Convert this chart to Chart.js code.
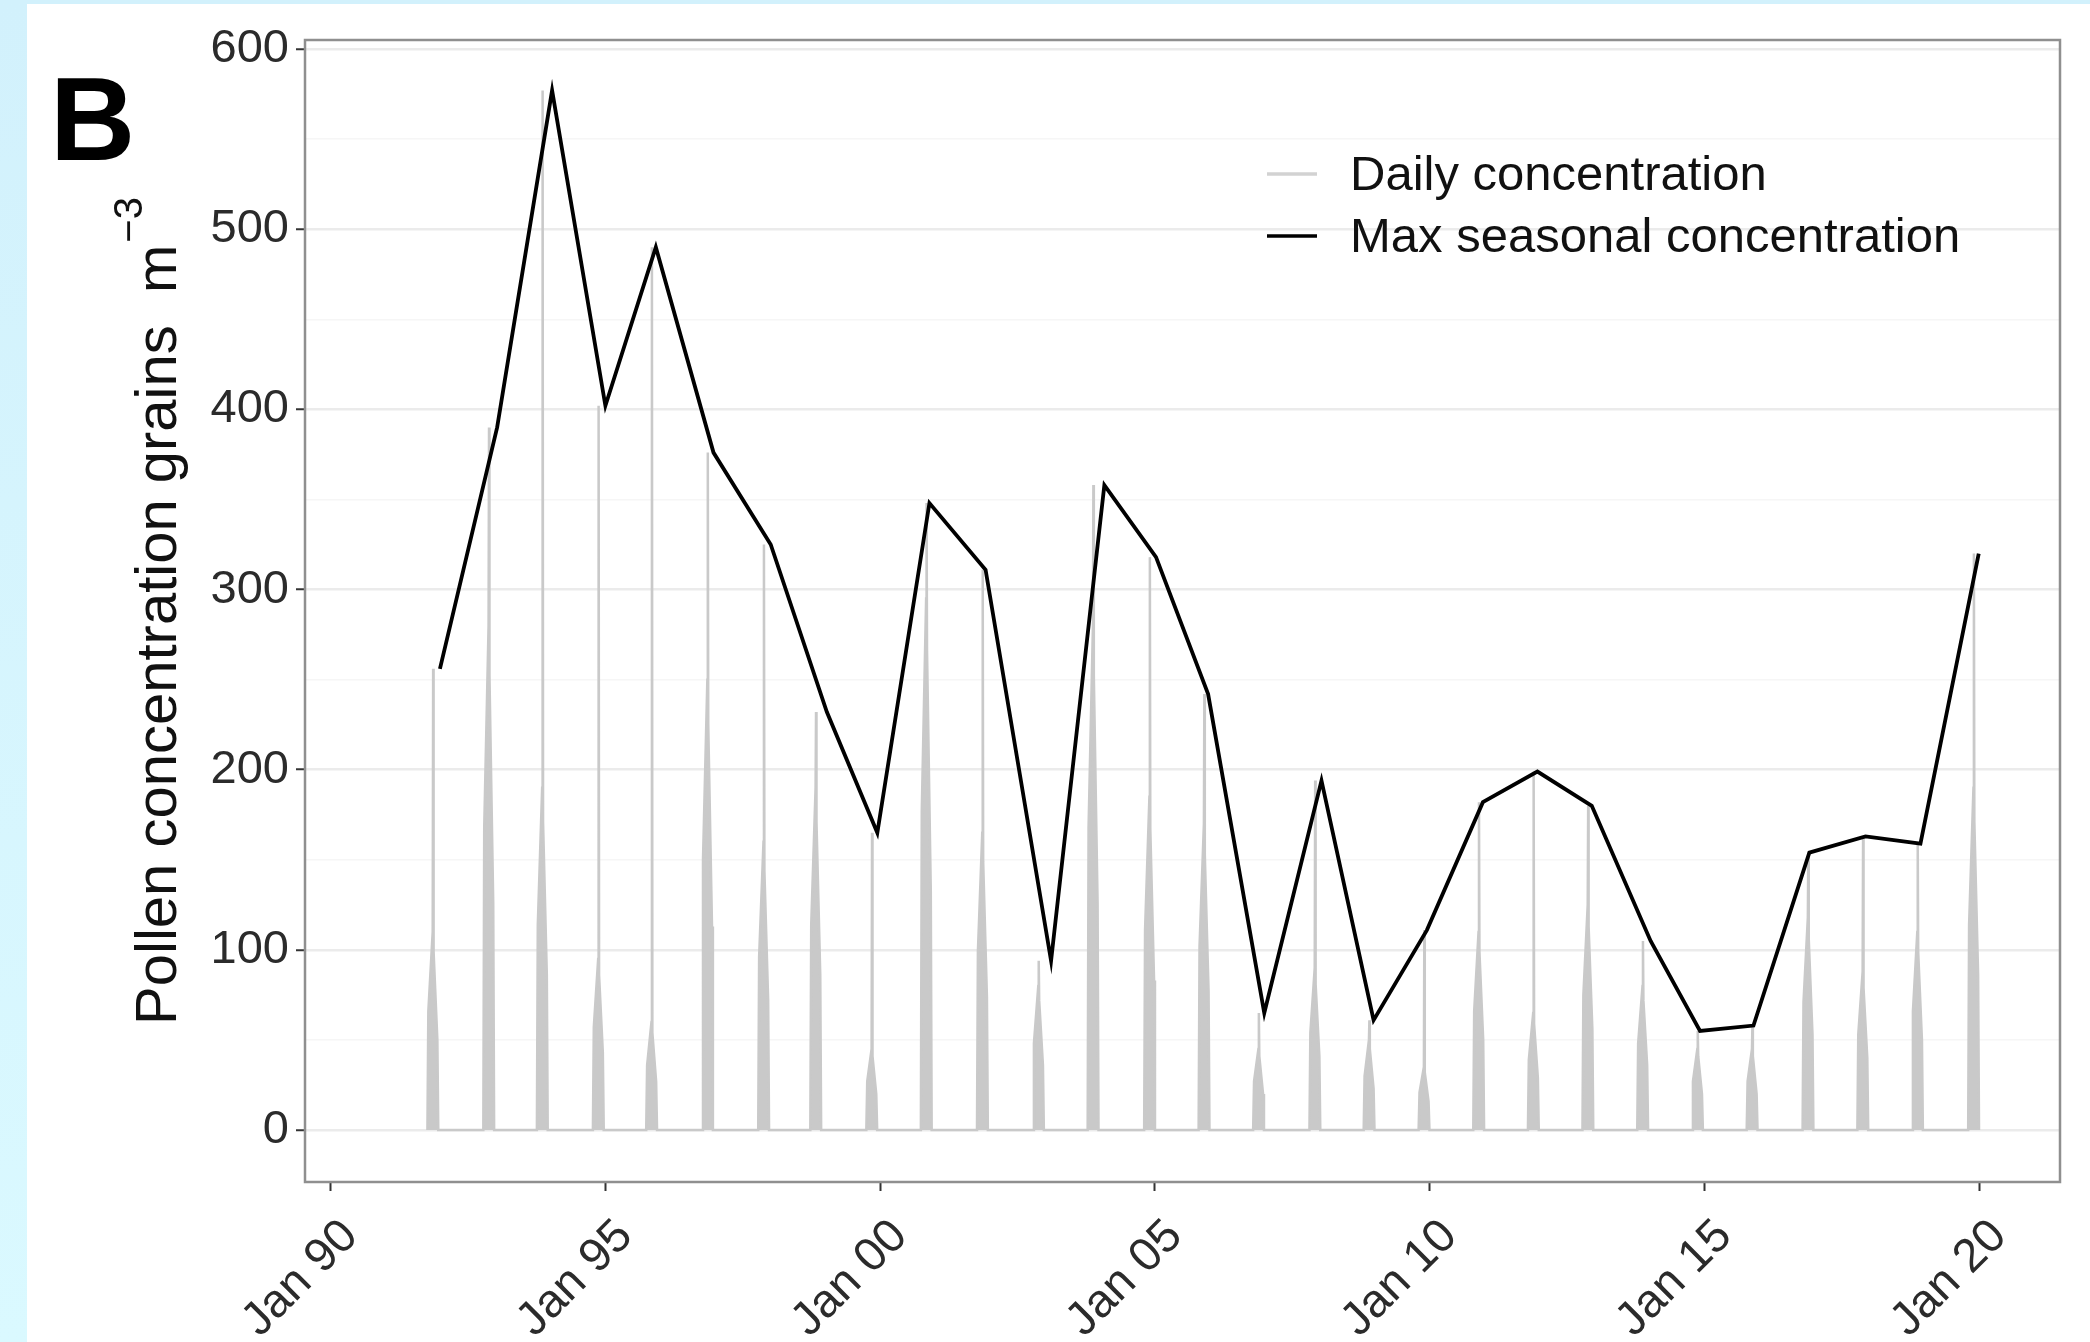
<!DOCTYPE html>
<html>
<head>
<meta charset="utf-8">
<title>Pollen concentration</title>
<script src="https://cdn.jsdelivr.net/npm/chart.js@4.4.1/dist/chart.umd.min.js"></script>
<style>
  html, body { margin: 0; padding: 0; background: #ffffff; }
  #wrap { width: 2090px; height: 1342px; }
  canvas { display: block; }
</style>
</head>
<body>
<div id="wrap"><canvas id="chart" width="2090" height="1342"></canvas></div>
<script>
// Daily pollen concentration, one line per season (grains m^-3)
const dailyDates = [
  '1991-10-06','1991-10-12','1991-11-10','1991-11-13','1991-11-16','1991-12-11','1991-12-17',
  '1992-10-12','1992-10-18','1992-11-16','1992-11-19','1992-11-22','1992-12-17','1992-12-23',
  '1993-10-03','1993-10-09','1993-11-07','1993-11-10','1993-11-13','1993-12-08','1993-12-14',
  '1994-10-10','1994-10-16','1994-11-14','1994-11-17','1994-11-20','1994-12-15','1994-12-21',
  '1995-09-29','1995-10-05','1995-11-03','1995-11-06','1995-11-09','1995-12-04','1995-12-10',
  '1996-10-05','1996-10-11','1996-11-09','1996-11-12','1996-11-15','1996-12-10','1996-12-16',
  '1997-10-13','1997-10-19','1997-11-17','1997-11-20','1997-11-23','1997-12-18','1997-12-24',
  '1998-09-24','1998-09-30','1998-10-29','1998-11-01','1998-11-04','1998-11-29','1998-12-05',
  '1999-10-01','1999-10-07','1999-11-05','1999-11-08','1999-11-11','1999-12-06','1999-12-12',
  '2000-09-28','2000-10-04','2000-11-02','2000-11-05','2000-11-08','2000-12-03','2000-12-09',
  '2001-10-06','2001-10-12','2001-11-10','2001-11-13','2001-11-16','2001-12-11','2001-12-17',
  '2002-10-13','2002-10-19','2002-11-17','2002-11-20','2002-11-23','2002-12-18','2002-12-24',
  '2003-10-11','2003-10-17','2003-11-15','2003-11-18','2003-11-21','2003-12-16','2003-12-22',
  '2004-10-21','2004-10-27','2004-11-25','2004-11-28','2004-12-01','2004-12-26','2005-01-01',
  '2005-10-18','2005-10-24','2005-11-22','2005-11-25','2005-11-28','2005-12-23','2005-12-29',
  '2006-10-15','2006-10-21','2006-11-19','2006-11-22','2006-11-25','2006-12-20','2006-12-26',
  '2007-10-24','2007-10-30','2007-11-28','2007-12-01','2007-12-04','2007-12-29','2008-01-04',
  '2008-10-19','2008-10-25','2008-11-23','2008-11-26','2008-11-29','2008-12-24','2008-12-30',
  '2009-10-19','2009-10-25','2009-11-23','2009-11-26','2009-11-29','2009-12-24','2009-12-30',
  '2010-10-17','2010-10-23','2010-11-21','2010-11-24','2010-11-27','2010-12-22','2010-12-28',
  '2011-10-15','2011-10-21','2011-11-19','2011-11-22','2011-11-25','2011-12-20','2011-12-26',
  '2012-10-12','2012-10-18','2012-11-16','2012-11-19','2012-11-22','2012-12-17','2012-12-23',
  '2013-10-11','2013-10-17','2013-11-15','2013-11-18','2013-11-21','2013-12-16','2013-12-22',
  '2014-10-10','2014-10-16','2014-11-14','2014-11-17','2014-11-20','2014-12-15','2014-12-21',
  '2015-10-08','2015-10-14','2015-11-12','2015-11-15','2015-11-18','2015-12-13','2015-12-19',
  '2016-10-14','2016-10-20','2016-11-18','2016-11-21','2016-11-24','2016-12-19','2016-12-25',
  '2017-10-13','2017-10-19','2017-11-17','2017-11-20','2017-11-23','2017-12-18','2017-12-24',
  '2018-10-11','2018-10-17','2018-11-15','2018-11-18','2018-11-21','2018-12-16','2018-12-22',
  '2019-10-19','2019-10-25','2019-11-23','2019-11-26','2019-11-29','2019-12-24','2019-12-30'
];
const dailyValues = [
  0, 66, 110, 256, 99, 50, 0,
  0, 168, 280, 390, 252, 126, 0,
  0, 114, 190, 577, 171, 86, 0,
  0, 57, 95, 402, 86, 43, 0,
  0, 36, 60, 490, 54, 27, 0,
  0, 150, 250, 376, 225, 113, 0,
  0, 96, 160, 325, 144, 72, 0,
  0, 114, 190, 232, 171, 86, 0,
  0, 27, 45, 165, 41, 20, 0,
  0, 177, 295, 348, 266, 133, 0,
  0, 99, 165, 311, 149, 74, 0,
  0, 48, 80, 94, 72, 36, 0,
  0, 168, 280, 358, 252, 126, 0,
  0, 111, 185, 318, 167, 83, 0,
  0, 102, 170, 242, 153, 77, 0,
  0, 27, 45, 65, 41, 20, 0,
  0, 54, 90, 194, 81, 41, 0,
  0, 30, 50, 61, 45, 23, 0,
  0, 21, 35, 111, 32, 16, 0,
  0, 66, 110, 182, 99, 50, 0,
  0, 39, 65, 199, 59, 29, 0,
  0, 75, 125, 180, 113, 56, 0,
  0, 48, 80, 105, 72, 36, 0,
  0, 27, 45, 55, 41, 20, 0,
  0, 27, 45, 58, 41, 20, 0,
  0, 71, 118, 154, 106, 53, 0,
  0, 53, 88, 163, 79, 40, 0,
  0, 66, 110, 159, 99, 50, 0,
  0, 114, 190, 320, 171, 86, 0
];

// Maximum concentration of each pollen season
const seasonDates = [
  '1991-12-28','1993-01-12','1994-01-12','1995-01-01','1995-12-02','1996-12-20',
  '1998-01-04','1999-01-12','1999-12-13','2000-11-24','2001-12-02','2003-02-10',
  '2004-01-30','2005-01-08','2005-12-20','2006-12-28','2008-01-12','2008-12-24',
  '2009-12-13','2010-12-20','2011-12-17','2012-12-13','2014-01-08','2014-12-02',
  '2015-11-22','2016-11-28','2017-12-06','2018-12-06','2019-12-28'
];
const seasonMax = [
  256, 390, 577, 402, 490, 376,
  325, 232, 165, 348, 311, 94,
  358, 318, 242, 65, 194, 61,
  111, 182, 199, 180, 105, 55,
  58, 154, 163, 159, 320
];

// Axis ticks
const xTickYears = [1990, 1995, 2000, 2005, 2010, 2015, 2020];
const xTickLabels = ['Jan 90', 'Jan 95', 'Jan 00', 'Jan 05', 'Jan 10', 'Jan 15', 'Jan 20'];
const yGridValues = [0, 50, 100, 150, 200, 250, 300, 350, 400, 450, 500, 550, 600];
const yTickLabels = ['0', '100', '200', '300', '400', '500', '600'];

const seriesLabels = ['Daily concentration', 'Max seasonal concentration'];
const yTitleMain = 'Pollen concentration grains  m';
const yTitleSup = '\u22123';
const panelTag = 'B';

const FONT = "'Liberation Sans', Arial, Helvetica, sans-serif";

// Date string -> decimal year for the linear time axis
function toYear(s) {
  const [y, m, d] = s.split('-').map(Number);
  const start = Date.UTC(y, 0, 1);
  const end = Date.UTC(y + 1, 0, 1);
  return y + (Date.UTC(y, m - 1, d) - start) / (end - start);
}

const dailyPoints = dailyDates.map((d, i) => ({ x: toYear(d), y: dailyValues[i] }));
const maxPoints = seasonDates.map((d, i) => ({ x: toYear(d), y: seasonMax[i] }));

const DAILY_GREY = '#c9c9c9';

// Figure background, panel border, tag, y title and in-panel legend
const decorPlugin = {
  id: 'decor',
  beforeDraw(chart) {
    const c = chart.ctx;
    c.save();
    c.fillStyle = '#ffffff';
    c.fillRect(0, 0, chart.width, chart.height);
    const g = c.createLinearGradient(0, 0, 0, chart.height);
    g.addColorStop(0, '#d2f1fc');
    g.addColorStop(1, '#daf9ff');
    c.fillStyle = g;
    c.fillRect(0, 0, 27, chart.height);
    c.fillRect(0, 0, chart.width, 4);
    c.restore();
  },
  afterDraw(chart) {
    const c = chart.ctx;
    const a = chart.chartArea;
    c.save();
    // panel border
    c.strokeStyle = '#8f8f8f';
    c.lineWidth = 2.5;
    c.strokeRect(a.left, a.top, a.right - a.left, a.bottom - a.top);

    // panel tag
    c.fillStyle = '#000000';
    c.font = 'bold 118px ' + FONT;
    c.textAlign = 'left';
    c.textBaseline = 'alphabetic';
    c.fillText(panelTag, 50, 160);

    // y axis title with superscript exponent
    const mainFont = '58px ' + FONT;
    const supFont = '40px ' + FONT;
    c.font = mainFont;
    const wMain = c.measureText(yTitleMain).width;
    c.font = supFont;
    const wSup = c.measureText(yTitleSup).width;
    const total = wMain + 2 + wSup;
    const cy = (a.top + a.bottom) / 2;
    c.translate(176, cy + total / 2);
    c.rotate(-Math.PI / 2);
    c.fillStyle = '#111111';
    c.font = mainFont;
    c.fillText(yTitleMain, 0, 0);
    c.font = supFont;
    c.fillText(yTitleSup, wMain + 2, -34);
    c.setTransform(1, 0, 0, 1, 0, 0);

    // legend
    const ds = chart.data.datasets;
    const rows = [174, 236];
    c.font = '49px ' + FONT;
    c.textBaseline = 'middle';
    ds.forEach((d, i) => {
      c.strokeStyle = i === 0 ? '#d2d2d2' : '#000000';
      c.lineWidth = 3.5;
      c.beginPath();
      c.moveTo(1267, rows[i]);
      c.lineTo(1317, rows[i]);
      c.stroke();
      c.fillStyle = '#111111';
      c.fillText(d.label, 1350, rows[i] + 2);
    });
    c.restore();
  }
};

new Chart(document.getElementById('chart').getContext('2d'), {
  type: 'line',
  data: {
    datasets: [
      {
        label: seriesLabels[0],
        data: dailyPoints,
        borderColor: DAILY_GREY,
        backgroundColor: DAILY_GREY,
        borderWidth: 2.5,
        fill: 'origin',
        pointRadius: 0,
        tension: 0,
        order: 2
      },
      {
        label: seriesLabels[1],
        data: maxPoints,
        borderColor: '#000000',
        borderWidth: 3.8,
        fill: false,
        pointRadius: 0,
        tension: 0,
        borderJoinStyle: 'miter',
        order: 1
      }
    ]
  },
  options: {
    responsive: false,
    animation: false,
    devicePixelRatio: 1,
    layout: { padding: { top: 40, right: 30, left: 0, bottom: 0 } },
    plugins: { legend: { display: false }, tooltip: { enabled: false } },
    scales: {
      x: {
        type: 'linear',
        min: 1989.534,
        max: 2021.468,
        afterBuildTicks(scale) { scale.ticks = xTickYears.map(v => ({ value: v })); },
        afterFit(scale) { scale.height = 160; },
        border: { display: false },
        grid: { drawOnChartArea: false, drawTicks: true, tickLength: 9, tickColor: '#333333', tickWidth: 2 },
        ticks: {
          autoSkip: false,
          minRotation: 45,
          maxRotation: 45,
          padding: 18,
          labelOffset: 20,
          color: '#2b2b2b',
          font: { family: FONT, size: 47 },
          callback: (v, i) => xTickLabels[i]
        }
      },
      y: {
        min: -28.8,
        max: 605,
        afterBuildTicks(scale) { scale.ticks = yGridValues.map(v => ({ value: v })); },
        afterFit(scale) { scale.width = 305; },
        border: { display: false },
        grid: {
          color: ctx => (ctx.tick && ctx.tick.value % 100 === 0) ? '#ebebeb' : '#f6f6f6',
          lineWidth: ctx => (ctx.tick && ctx.tick.value % 100 === 0) ? 2.5 : 1.5,
          tickColor: ctx => (ctx.tick && ctx.tick.value % 100 === 0) ? '#333333' : 'rgba(0,0,0,0)',
          tickWidth: 2,
          tickLength: 9,
          drawTicks: true
        },
        ticks: {
          autoSkip: false,
          padding: 7,
          color: '#2b2b2b',
          font: { family: FONT, size: 47 },
          callback: v => (v % 100 === 0 ? yTickLabels[v / 100] : '')
        }
      }
    }
  },
  plugins: [decorPlugin]
});
</script>
</body>
</html>
